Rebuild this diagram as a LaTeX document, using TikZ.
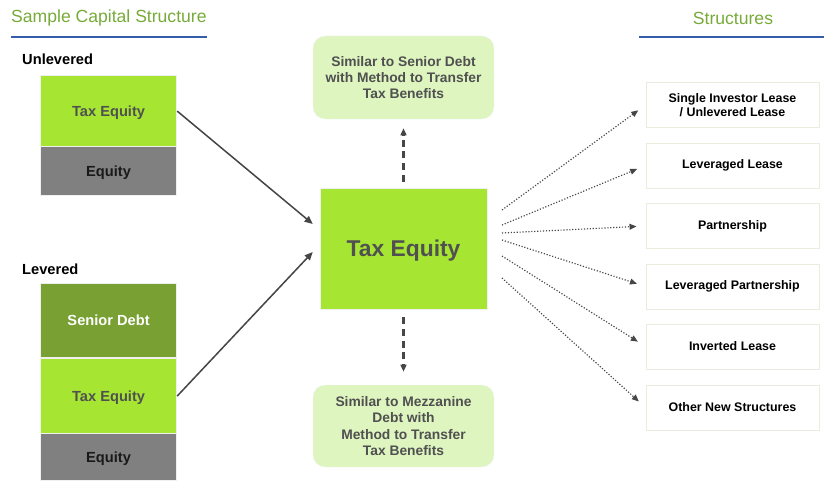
\documentclass[tikz,border=0pt]{standalone}
\usepackage{fontspec}
\setmainfont{Liberation Sans}
\usetikzlibrary{arrows.meta,calc}
\definecolor{titlegreen}{RGB}{119,170,58}
\definecolor{ruleblue}{RGB}{52,94,170}
\definecolor{limegreen}{RGB}{166,230,51}
\definecolor{olivegreen}{RGB}{120,160,50}
\definecolor{equitygray}{RGB}{128,128,128}
\definecolor{palegreen}{RGB}{222,245,192}
\definecolor{textgray}{RGB}{80,80,80}
\definecolor{arrowgray}{RGB}{70,70,70}
\definecolor{boxedge}{RGB}{235,235,222}

\begin{document}
\begin{tikzpicture}[x=0.03cm, y=-0.03cm,
    heading/.style={text=titlegreen, font=\fontsize{15}{18}\selectfont, inner sep=0pt},
    caselabel/.style={anchor=west, font=\fontsize{12.5}{15}\selectfont\bfseries, inner sep=0pt},
    layer/.style={draw=white!88!gray, line width=1pt, anchor=north west, minimum width=4.08cm,
        inner sep=0pt, text depth=0pt, font=\fontsize{12.5}{15}\selectfont\bfseries},
    notebox/.style={draw=white!92!gray, fill=palegreen, rounded corners=0.36cm, minimum width=5.43cm,
        text=textgray, align=center, font=\fontsize{11.8}{13.9}\selectfont\bfseries},
    structbox/.style={draw=boxedge, line width=0.8pt, minimum width=5.19cm, minimum height=1.35cm,
        align=center, font=\fontsize{10.6}{12.4}\selectfont\bfseries},
    feedarrow/.style={draw=arrowgray, line width=1.3pt, -{Triangle[length=7pt,width=6pt]}},
    notearrow/.style={draw=arrowgray, line width=1.8pt, dash pattern=on 6pt off 4pt,
        -{Triangle[length=6pt,width=5pt]}},
    dotarrow/.style={draw=arrowgray, line width=1pt, dash pattern=on 1pt off 1.5pt,
        -{Triangle[length=6pt,width=5pt]}, shorten >=0.27cm}]
    \useasboundingbox (0,0) rectangle (824,480);

    % headings
    \node[heading, anchor=west] (samplehead) at (11,18) {Sample Capital Structure};
    \node[heading] (structhead) at (733,18) {Structures};
    \draw[ruleblue, line width=1.5pt] (11,37) -- (207,37);
    \draw[ruleblue, line width=1.5pt] (639,37) -- (824,37);

    % unlevered stack
    \node[caselabel] (unlev) at (22,59) {Unlevered};
    \node[layer, fill=limegreen, text=textgray, minimum height=2.13cm] (utax) at (40,75) {Tax Equity};
    \node[layer, fill=equitygray, text=black!90, minimum height=1.47cm] (ueq) at (40,146) {Equity};

    % levered stack
    \node[caselabel] (lev) at (22,269) {Levered};
    \node[layer, fill=olivegreen, text=white, minimum height=2.22cm] (lsen) at (40,283) {Senior Debt};
    \node[layer, fill=limegreen, text=textgray, minimum height=2.25cm] (ltax) at (40,358) {Tax Equity};
    \node[layer, fill=equitygray, text=black!90, minimum height=1.41cm] (leq) at (40,433) {Equity};

    % centre
    \node[fill=limegreen, draw=white!88!gray, minimum width=5.01cm, minimum height=3.63cm, text depth=0pt,
        text=textgray, font=\fontsize{19.5}{23}\selectfont\bfseries] (taxeq) at (403.5,248.5) {Tax Equity};
    \node[notebox, minimum height=2.49cm] (senior) at (403.5,77.5)
        {Similar to Senior Debt\\with Method to Transfer\\Tax Benefits};
    \node[notebox, minimum height=2.46cm] (mezz) at (403.5,426)
        {Similar to Mezzanine\\Debt with\\Method to Transfer\\Tax Benefits};

    \draw[feedarrow] (utax.east) -- ($(taxeq.west)+(-7,-24.5)$);
    \draw[feedarrow] (ltax.east) -- ($(taxeq.west)+(-7,3.5)$);
    \draw[notearrow, shorten <=0.18cm, shorten >=0.27cm] (taxeq.north) -- (senior.south);
    \draw[notearrow, shorten <=0.24cm, shorten >=0.39cm] (taxeq.south) -- (mezz.north);

    % structures
    \node[structbox] (s1) at (732.5,105) {Single Investor Lease\\/ Unlevered Lease};
    \node[structbox] (s2) at (732.5,165.5) {Leveraged Lease};
    \node[structbox] (s3) at (732.5,226) {Partnership};
    \node[structbox] (s4) at (732.5,286.5) {Leveraged Partnership};
    \node[structbox] (s5) at (732.5,346.5) {Inverted Lease};
    \node[structbox] (s6) at (732.5,407.5) {Other New Structures};

    \foreach \i/\sy in {1/210,2/225,3/233,4/240,5/256,6/278}{
        \coordinate (out\i) at (502,\sy);
        \draw[dotarrow] (out\i) -- (s\i.west);
    }
\end{tikzpicture}
\end{document}
